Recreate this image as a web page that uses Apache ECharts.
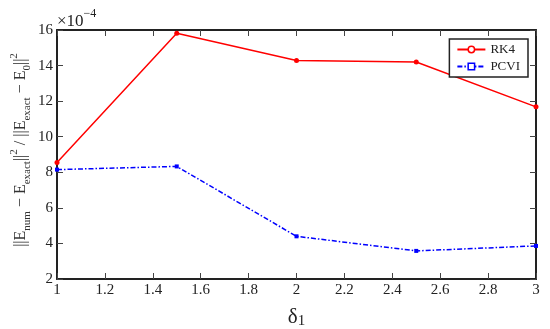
<!DOCTYPE html>
<html>
<head>
<meta charset="utf-8">
<script src="https://cdn.jsdelivr.net/npm/echarts@6/dist/echarts.min.js"></script>
<style>html,body{margin:0;padding:0;background:#fff}#c{width:550px;height:329px}</style>
</head>
<body>
<div id="c"></div>
<script>
var xValues = [1, 1.5, 2, 2.5, 3];
var rk4 = [8.55, 15.82, 14.28, 14.2, 11.68];
var pcvi = [8.15, 8.33, 4.4, 3.58, 3.86];
var seriesNames = ['RK4', 'PCVI'];
var xTicks = [1, 1.2, 1.4, 1.6, 1.8, 2, 2.2, 2.4, 2.6, 2.8, 3];
var yTicks = [2, 4, 6, 8, 10, 12, 14, 16];

var FONT = 'Liberation Serif';
var chart = echarts.init(document.getElementById('c'), null, {renderer: 'canvas'});

function pairs(ys) { return xValues.map(function (x, i) { return [x, ys[i]]; }); }

var axisLine = {show: true, lineStyle: {color: '#222', width: 2}};
var tick = {show: true, inside: true, length: 6, lineStyle: {color: '#444', width: 1}};

chart.setOption({
  animation: false,
  backgroundColor: '#fff',
  grid: {left: 57, right: 14, top: 30, bottom: 50, containLabel: false, outerBoundsMode: 'none'},
  xAxis: [
    {type: 'value', min: 1, max: 3, interval: 0.2, position: 'bottom',
     axisLine: axisLine, axisTick: tick, splitLine: {show: false},
     axisLabel: {color: '#222', fontFamily: FONT, fontSize: 15, margin: 4,
       formatter: function (v) { return xTicks.indexOf(Math.round(v * 10) / 10) >= 0 ? String(Math.round(v * 10) / 10) : ''; }},
     name: '{d|δ}{s|1}', nameLocation: 'middle', nameGap: 26,
     nameTextStyle: {color: '#222', fontFamily: FONT, fontSize: 21, rich: {
       d: {fontFamily: FONT, fontSize: 21, color: '#222', lineHeight: 24, verticalAlign: 'middle'},
       s: {fontFamily: FONT, fontSize: 15, color: '#222', lineHeight: 24, verticalAlign: 'bottom'}}}},
    {type: 'value', min: 1, max: 3, interval: 0.2, position: 'top',
     axisLine: axisLine, axisTick: tick, axisLabel: {show: false}, splitLine: {show: false}}
  ],
  yAxis: [
    {type: 'value', min: 2, max: 16, interval: 2, position: 'left',
     axisLine: axisLine, axisTick: tick, splitLine: {show: false},
     axisLabel: {color: '#222', fontFamily: FONT, fontSize: 15, margin: 4,
       formatter: function (v) { return yTicks.indexOf(v) >= 0 ? String(v) : ''; }}},
    {type: 'value', min: 2, max: 16, interval: 2, position: 'right',
     axisLine: axisLine, axisTick: tick, axisLabel: {show: false}, splitLine: {show: false}}
  ],
  legend: {
    right: 22, top: 39, orient: 'vertical', itemGap: 4, itemWidth: 28, itemHeight: 8,
    padding: [4, 8, 4, 7], borderColor: '#222', borderWidth: 1.5, backgroundColor: '#fff',
    textStyle: {fontFamily: FONT, fontSize: 13, color: '#222'},
    data: [
      {name: seriesNames[0], itemStyle: {color: '#fff', borderColor: '#ff0000', borderWidth: 1.5}},
      {name: seriesNames[1], itemStyle: {color: '#fff', borderColor: '#0000ff', borderWidth: 1.5}}
    ]
  },
  series: [
    {name: seriesNames[0], type: 'line', data: pairs(rk4), symbol: 'circle', symbolSize: 5,
     itemStyle: {color: '#ff0000'}, lineStyle: {color: '#ff0000', width: 1.5}},
    {name: seriesNames[1], type: 'line', data: pairs(pcvi), symbol: 'rect', symbolSize: 4,
     itemStyle: {color: '#0000ff'}, lineStyle: {color: '#0000ff', width: 1.5, type: [5, 2, 1.5, 2]}}
  ],
  graphic: [
    {type: 'text', left: 57, top: 8,
     style: {text: '{m|×10}{p|−4}', rich: {
       m: {fontFamily: FONT, fontSize: 17, fill: '#222', verticalAlign: 'bottom', lineHeight: 22},
       p: {fontFamily: FONT, fontSize: 12, fill: '#222', verticalAlign: 'top', lineHeight: 22}}}},
    {type: 'text', x: 21, y: 150, rotation: Math.PI / 2,
     style: {text: '{m|||E}{s|num}{m| − E}{s|exact}{m|||}{p|2}{m| / ||E}{s|exact}{m| − E}{s|0}{m|||}{p|2}',
       align: 'center', verticalAlign: 'middle',
       rich: {
         m: {fontFamily: FONT, fontSize: 16, fill: '#333', lineHeight: 24, verticalAlign: 'middle'},
         s: {fontFamily: FONT, fontSize: 11, fill: '#333', lineHeight: 24, verticalAlign: 'bottom'},
         p: {fontFamily: FONT, fontSize: 11, fill: '#333', lineHeight: 24, verticalAlign: 'top'}
       }}}
  ]
});
</script>
</body>
</html>
